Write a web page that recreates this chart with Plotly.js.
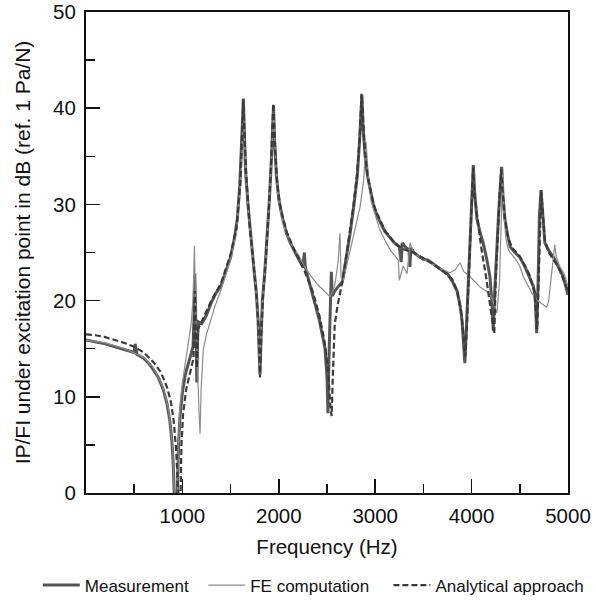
<!DOCTYPE html>
<html>
<head>
<meta charset="utf-8">
<script src="https://cdn.plot.ly/plotly-3.0.1.min.js"></script>
<style>html,body{margin:0;padding:0;background:#fff;}#chart{width:596px;height:601px;}</style>
</head>
<body>
<div id="chart"></div>
<script>
// Measurement
var measFreq = [0,50,100,200,300,400,500,510,530,600,650,700,750,800,840,870,890,905,915,925,940,950,960,975,1000,1030,1060,1090,1110,1120,1128,1135,1142,1150,1158,1165,1200,1250,1300,1350,1400,1450,1500,1540,1570,1595,1615,1625,1632,1640,1655,1680,1710,1740,1765,1785,1795,1805,1815,1830,1855,1880,1905,1925,1938,1945,1955,1975,2000,2040,2080,2120,2170,2220,2250,2265,2275,2300,2340,2380,2420,2450,2480,2500,2510,2520,2535,2545,2555,2580,2620,2660,2700,2740,2780,2815,2840,2855,2862,2875,2895,2920,2950,2980,3020,3060,3100,3150,3200,3250,3270,3280,3320,3350,3360,3370,3400,3450,3500,3550,3600,3650,3700,3750,3800,3850,3880,3900,3915,3930,3945,3965,3985,4000,4018,4030,4055,4090,4120,4160,4190,4210,4225,4240,4260,4280,4300,4312,4325,4345,4370,4400,4450,4500,4550,4600,4640,4660,4675,4690,4703,4720,4735,4760,4800,4850,4900,4950,5000];
var measVal = [15.9,15.8,15.7,15.5,15.2,14.9,14.6,15.5,14.4,14.0,13.5,12.8,12.0,10.8,9.3,7.5,5.5,3,0,-3,-3,2,5,8,10.5,12.3,13.5,14.5,15.2,18,22.8,20,15,11.5,16,17.8,17.6,18.5,19.8,20.8,21.5,23.0,24.5,26.5,28.5,32,36,39,41,38,33.5,30,26.5,23.5,21,18,15,12.3,16,20,23,26.5,31,35,39,40.3,37,33,30.5,28.5,27,26,25,24,23.5,25,23.5,22.5,21,19.5,18,16.5,15,12,8.3,14,21,23,20.5,21,21.5,22,24.5,27,30,33,37,40,41.4,38,35,33,31.5,30,28.8,28,27.2,26.6,26,25.6,24,26,25.5,25.3,23.5,25.5,25,24.6,24.3,24.2,23.8,23.4,23.1,22.8,22,21,19.5,18,16,13.5,17,22,27,30.5,34.1,31.5,28.5,27,26,24.2,22.5,20,16.9,21,25.3,29,32.2,33.9,31,28.5,27,25.6,25,24.5,23.6,22.5,21.5,20.5,16.6,22,28.7,31.5,29,26,25.2,24.5,23.5,22.5,20.6];

// FE computation
var feFreq = [0,200,400,600,700,800,860,900,915,925,945,955,975,1000,1030,1062,1090,1110,1125,1135,1150,1170,1183,1195,1217,1250,1286,1340,1390,1459,1500,1560,1600,1620,1635,1645,1660,1690,1730,1760,1785,1800,1815,1835,1870,1905,1930,1945,1958,1980,2010,2060,2120,2200,2270,2330,2400,2470,2531,2580,2615,2635,2645,2660,2700,2739,2790,2842,2880,2905,2915,2935,2960,3000,3050,3100,3154,3200,3240,3250,3290,3330,3361,3400,3450,3500,3568,3650,3700,3776,3830,3870,3880,3920,3983,4087,4150,4208,4240,4262,4290,4310,4322,4335,4355,4380,4400,4450,4500,4536,4600,4640,4700,4744,4779,4800,4813,4840,4862,4880,4917,4960,5000];
var feVal = [15.9,15.6,15.0,14.1,13.0,11.0,8.5,4.5,0,-3,-3,4,9,11.5,13.5,15.9,17.5,20,25.7,20,14,9,6.2,11,14.9,16.5,17.7,19.5,20.8,22.9,24.3,27,31.5,35.5,39.5,36.5,32.5,28.5,24.5,21.5,18,13,16.5,20.5,25,30.5,35.5,39.5,36,32,29.5,27.5,26,24.8,23.5,22.6,21.7,21,20.4,21.5,24,27,22.5,21.7,23.5,24.9,27.3,29.7,32.5,36.5,35,32,30.2,28.8,27.3,26.3,25.3,24.7,24.2,22.1,23.6,22.8,26,25,24.6,24.3,23.9,23.5,23.2,22.9,23.2,23.8,23.9,23,22.5,21.4,21,20.4,19.5,18.7,22,30,33.5,29,26.5,25.3,25,24.4,23.6,22.5,21.2,20.5,19.9,19.6,19.3,20,21.1,23.5,25.8,24.5,23.5,22.8,21.5];

// Analytical approach
var anFreq = [0,100,200,300,400,500,600,700,780,840,880,910,935,950,960,975,990,1008,1040,1078,1100,1115,1128,1140,1150,1160,1200,1300,1400,1500,1560,1600,1620,1632,1645,1665,1700,1740,1770,1790,1805,1820,1840,1870,1900,1925,1943,1960,1985,2020,2080,2150,2250,2350,2420,2470,2510,2535,2548,2560,2580,2610,2660,2720,2770,2810,2840,2858,2870,2890,2920,2960,3000,3100,3200,3300,3400,3500,3600,3700,3800,3850,3890,3915,3935,3950,3975,3995,4015,4030,4060,4100,4150,4190,4215,4235,4250,4270,4290,4308,4320,4345,4380,4420,4500,4600,4650,4668,4680,4695,4710,4722,4735,4760,4800,4900,5000];
var anVal = [16.5,16.4,16.2,15.9,15.6,15.2,14.6,13.6,12.5,11,9.5,7.5,4.5,1.5,-2,-3,5,8.3,10.8,12.5,13.5,14,21,15.5,13,17,17.8,20,21.8,24.8,27.5,32,36.5,40.8,37,32.5,27.5,23.5,20.5,17,12,17,21,25,30,35.5,40.5,36,32,29.5,27.2,25.5,23.5,21,18.5,16,13,9,8,12,17.5,19.5,22,26,29.5,33,37,41.5,39,36,33,31,29.5,27.3,26,25.3,25,24.4,23.8,23.1,22.2,21,19,16.5,14.2,17,24,29,33.8,31,28.5,25.5,22.5,19.5,17.7,16.5,22,27,31,33.6,31.5,28.5,26.5,25.5,24.6,22.7,21,18.5,17,22,27,31.4,29.5,26.3,25,23.5,21];

var xTicks = [1000,2000,3000,4000,5000];
var yTicks = [0,10,20,30,40,50];

var FONT = '"Liberation Sans", Arial, Helvetica, sans-serif';

var traces = [
  {x: measFreq, y: measVal, name: 'Measurement\u00a0\u00a0', type: 'scatter', mode: 'lines',
   line: {color: '#555555', width: 3}},
  {x: feFreq, y: feVal, name: 'FE computation\u00a0\u00a0\u00a0', type: 'scatter', mode: 'lines',
   line: {color: '#8c8c8c', width: 1.2}},
  {x: anFreq, y: anVal, name: 'Analytical approach', type: 'scatter', mode: 'lines',
   line: {color: '#3a3a3a', width: 2.2, dash: '6px,3px'}}
];

var layout = {
  width: 596, height: 601,
  margin: {l: 86, r: 28, t: 12, b: 108, autoexpand: false},
  paper_bgcolor: '#ffffff', plot_bgcolor: '#ffffff',
  font: {family: FONT, color: '#111111', size: 17},
  showlegend: true,
  legend: {orientation: 'h', x: -0.1, xanchor: 'left', y: -0.155, yanchor: 'top',
           font: {family: FONT, size: 17, color: '#111'}, itemwidth: 37, tracegroupgap: 0},
  xaxis: {
    range: [0, 5000], tickmode: 'array', tickvals: xTicks, ticktext: xTicks.map(String),
    ticks: 'inside', ticklen: 14, tickwidth: 1.5, tickcolor: '#111',
    minor: {tickmode: 'linear', tick0: 0, dtick: 500, ticks: 'inside', ticklen: 9, tickwidth: 1.5, tickcolor: '#111'},
    showline: true, linecolor: '#111', linewidth: 2, mirror: true,
    showgrid: false, zeroline: false, ticklabelstandoff: 3,
    tickfont: {family: FONT, size: 20.5, color: '#111'},
    title: {text: 'Frequency (Hz)', font: {family: FONT, size: 20.5, color: '#111'}, standoff: 14}
  },
  yaxis: {
    range: [0, 50], tickmode: 'array', tickvals: yTicks, ticktext: yTicks.map(String),
    ticks: 'inside', ticklen: 14, tickwidth: 1.5, tickcolor: '#111',
    minor: {tickmode: 'linear', tick0: 0, dtick: 5, ticks: 'inside', ticklen: 9, tickwidth: 1.5, tickcolor: '#111'},
    showline: true, linecolor: '#111', linewidth: 2, mirror: true,
    showgrid: false, zeroline: false, ticklabelstandoff: 4,
    tickfont: {family: FONT, size: 20.5, color: '#111'},
    title: {text: 'IP/FI under excitation point in dB (ref. 1 Pa/N)', font: {family: FONT, size: 21, color: '#111'}, standoff: 17}
  }
};

Plotly.newPlot('chart', traces, layout, {displayModeBar: false, staticPlot: true});
</script>
</body>
</html>
